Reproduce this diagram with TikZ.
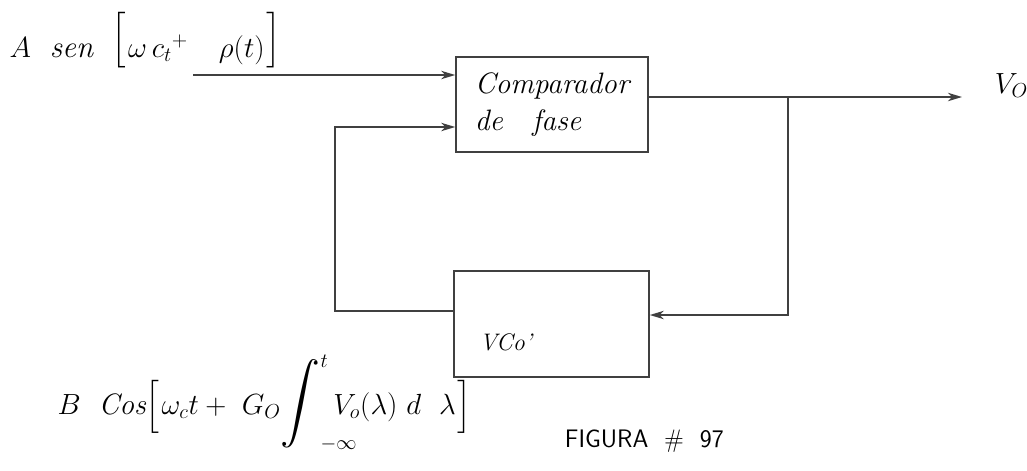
\documentclass[tikz,border=0pt]{standalone}
\usepackage{amsmath,amssymb,mathtools}
\usepackage{xcolor}
\usepackage{tikz}
\usetikzlibrary{arrows.meta,positioning,calc}

% tall brackets: height, raise
\newcommand{\opbr}[2]{\smash{\raisebox{#2}{$\left[\vcenter{\hbox{\rule{0pt}{#1}}}\right.$}}}
\newcommand{\clbr}[2]{\smash{\raisebox{#2}{$\left.\vcenter{\hbox{\rule{0pt}{#1}}}\right]$}}}

\begin{document}
\begin{tikzpicture}[x=0.025cm, y=-0.025cm, font=\fontsize{22}{26}\selectfont,
  blockbox/.style={draw=black!75, line width=1.1pt, inner sep=0pt},
  wire/.style={draw=black!75, line width=1.1pt},
  sig/.style={wire, -{Stealth[length=10pt, width=6pt, inset=3pt]}}]
  \useasboundingbox (0,0) rectangle (1027,470);

  % blocks
  \node[blockbox, minimum width=4.8cm, minimum height=2.375cm, align=left,
        font=\itshape\fontsize{21}{26}\selectfont] (comp) at (552,104.5)
        {Comparador\\de\quad fase};
  \node[blockbox, minimum width=4.875cm, minimum height=2.65cm] (vco) at (551.5,324) {};
  \node[anchor=base west, inner sep=1pt, font=\itshape\fontsize{17}{20}\selectfont] (vcolbl) at (478,350) {VCo'};

  % points on the wires
  \coordinate (in1) at (193,75);
  \coordinate (tap) at (788,97);
  \coordinate (vout) at (962,97);
  \coordinate (tapdn) at (788,315);
  \coordinate (fbout) at (454,311);
  \coordinate (fbup) at (335,127);

  \draw[sig] (in1) -- (in1 -| comp.west);
  \draw[wire] (comp.east |- tap) -- (tap);
  \draw[sig] (tap) -- (vout);
  \draw[sig] (tap) -- (tapdn) -- (tapdn -| vco.east);
  \draw[sig] (fbout) -| (fbup) -- (fbup -| comp.west);

  % labels
  \node[anchor=base west, inner sep=1pt] (sigin) at (8,57)
    {$A\ \ \textit{sen}\ \ \opbr{41pt}{6.5pt}\omega\, c_{t}{}^{+}\quad \rho(t)\clbr{41pt}{6.5pt}$};
  \node[anchor=base west] (voutlbl) at (990,93) {$V_{O}$};
  \node[anchor=base west, inner sep=1pt, font=\fontsize{21}{25}\selectfont] (sigvco) at (56,414)
    {$B\ \ \textit{Cos}\opbr{37pt}{0pt}\omega_{c}t+\ G_{O}\!
      \mathop{\scalebox{1.35}{$\displaystyle\int$}}\nolimits_{\mathrlap{-\infty}}^{t}
      V_{o}(\lambda)\ d\ \ \lambda\clbr{37pt}{0pt}$};
  \node[anchor=base west, font=\sffamily\fontsize{18}{21}\selectfont] (fig) at (560,447) {FIGURA \ \# \ 97};
\end{tikzpicture}
\end{document}
